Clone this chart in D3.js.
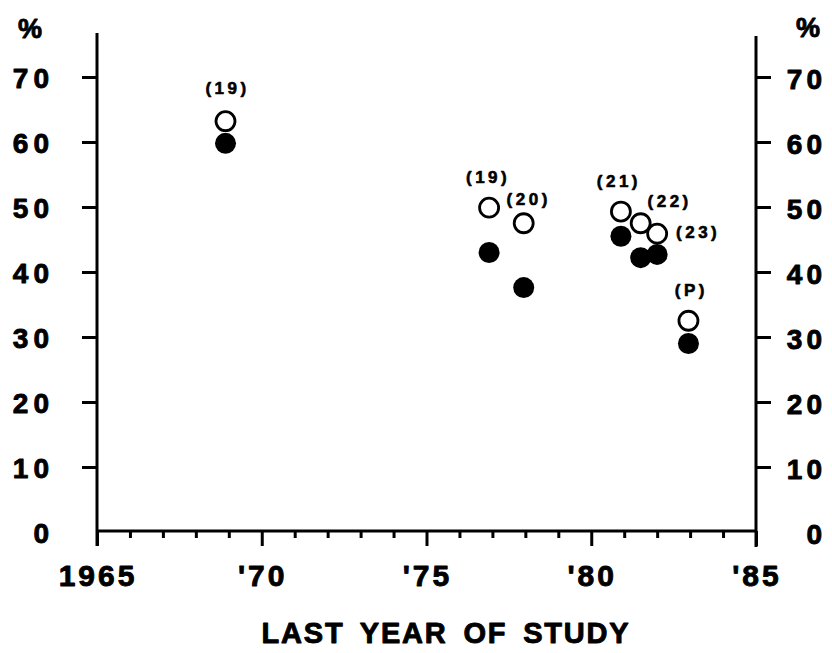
<!DOCTYPE html>
<html>
<head>
<meta charset="utf-8">
<script src="https://cdn.jsdelivr.net/npm/d3@7/dist/d3.min.js"></script>
<style>
  html, body { margin: 0; padding: 0; background: #fff; }
  svg { display: block; }
  text { font-family: "Liberation Sans", Arial, Helvetica, sans-serif; font-weight: bold; fill: #000;
         stroke: #000; stroke-width: 0.9px; stroke-linejoin: round; }
</style>
</head>
<body>
<svg id="chart" width="832" height="653"></svg>
<script>
// Last year of each study (x) and percentages for the two measures
const studyYears   = [1968.9, 1976.9, 1977.95, 1980.9, 1981.5, 1982.0, 1982.95];
const openValues   = [63.2, 49.9, 47.5, 49.3, 47.5, 45.9, 32.5];
const filledValues = [59.8, 43.0, 37.6, 45.5, 42.2, 42.7, 29.0];
const studyLabels  = ["(19)", "(19)", "(20)", "(21)", "(22)", "(23)", "(P)"];

const yTicks = [0, 10, 20, 30, 40, 50, 60, 70];
const xMajorTicks = [1965, 1970, 1975, 1980, 1985];
const xTickLabels = ["1965", "'70", "'75", "'80", "'85"];
const xTitle = "LAST YEAR OF STUDY";

// Label placement relative to the open marker of each study
const labelOffsets = [[0, -33], [-3, -31], [3, -24], [-4, -31], [27, -22], [39, -2], [1, -31]];

const svg = d3.select("#chart");
const x = d3.scaleLinear().domain([1965, 1985]).range([97, 756]);
const y = d3.scaleLinear().domain([0, 70]).range([532, 77]);

const axisW = 3;

// Left y axis
const left = svg.append("g").attr("transform", `translate(${x(1965)},0)`);
left.call(d3.axisLeft(y).tickValues(yTicks).tickSize(15).tickPadding(30).tickFormat(d3.format("d")));
left.select(".domain").remove();
left.selectAll(".tick line").attr("stroke", "#000").attr("stroke-width", axisW)
  .filter(d => d === 0).remove();
left.selectAll(".tick text").attr("font-size", 28).attr("letter-spacing", 5)
  .attr("dx", 2).attr("dy", "0.36em");
left.append("line").attr("x1", 0).attr("x2", 0).attr("y1", 33).attr("y2", 546)
  .attr("stroke", "#000").attr("stroke-width", axisW);

// Right y axis
const right = svg.append("g").attr("transform", `translate(${x(1985)},0)`);
right.call(d3.axisRight(y).tickValues(yTicks).tickSize(15).tickPadding(55).tickFormat(d3.format("d")));
right.select(".domain").remove();
right.selectAll(".tick line").attr("stroke", "#000").attr("stroke-width", axisW)
  .filter(d => d === 0).remove();
right.selectAll(".tick text").attr("font-size", 28).attr("letter-spacing", 4)
  .attr("text-anchor", "end").attr("dy", "0.42em");
right.append("line").attr("x1", 0).attr("x2", 0).attr("y1", 36).attr("y2", 547)
  .attr("stroke", "#000").attr("stroke-width", axisW);

// Bottom x axis: minor ticks every year, major ticks every five years
const bottom = svg.append("g").attr("transform", `translate(0,${y(0) - 1})`);
bottom.call(d3.axisBottom(x).tickValues(d3.range(1965, 1986)).tickSize(7).tickFormat(""));
bottom.select(".domain").remove();
bottom.selectAll(".tick line").attr("stroke", "#000").attr("stroke-width", axisW)
  .attr("y2", d => xMajorTicks.includes(d) ? 15 : 7);
bottom.append("line").attr("x1", x(1965)).attr("x2", x(1985)).attr("y1", 0).attr("y2", 0)
  .attr("stroke", "#000").attr("stroke-width", axisW);
bottom.selectAll(".xlab").data(xMajorTicks).join("text")
  .attr("class", "xlab")
  .attr("x", d => x(d) + 1)
  .attr("y", 55)
  .attr("text-anchor", "middle")
  .attr("font-size", 30)
  .attr("letter-spacing", 3)
  .text((d, i) => xTickLabels[i]);

// Axis titles
svg.append("text").attr("x", 30).attr("y", 38).attr("text-anchor", "middle")
  .attr("font-size", 27).text("%");
svg.append("text").attr("x", 808).attr("y", 37).attr("text-anchor", "middle")
  .attr("font-size", 27).text("%");
svg.append("text").attr("x", 446).attr("y", 643).attr("text-anchor", "middle")
  .attr("font-size", 29).attr("letter-spacing", 1.8).attr("word-spacing", 6)
  .text(xTitle);

// Markers
const marks = svg.append("g");
marks.selectAll(".open").data(studyYears).join("circle")
  .attr("class", "open")
  .attr("cx", d => x(d))
  .attr("cy", (d, i) => y(openValues[i]))
  .attr("r", 9.5)
  .attr("fill", "#fff").attr("stroke", "#000").attr("stroke-width", 2.8);
marks.selectAll(".filled").data(studyYears).join("circle")
  .attr("class", "filled")
  .attr("cx", d => x(d))
  .attr("cy", (d, i) => y(filledValues[i]))
  .attr("r", 10.5)
  .attr("fill", "#000");

// Study reference labels
svg.selectAll(".slab").data(studyLabels).join("text")
  .attr("class", "slab")
  .attr("x", (d, i) => x(studyYears[i]) + labelOffsets[i][0] + 2)
  .attr("y", (d, i) => y(openValues[i]) + labelOffsets[i][1])
  .attr("dy", "0.36em")
  .attr("text-anchor", "middle")
  .attr("font-size", 17)
  .attr("letter-spacing", 3.5)
  .style("stroke-width", "0.6px")
  .text(d => d);
</script>
</body>
</html>
